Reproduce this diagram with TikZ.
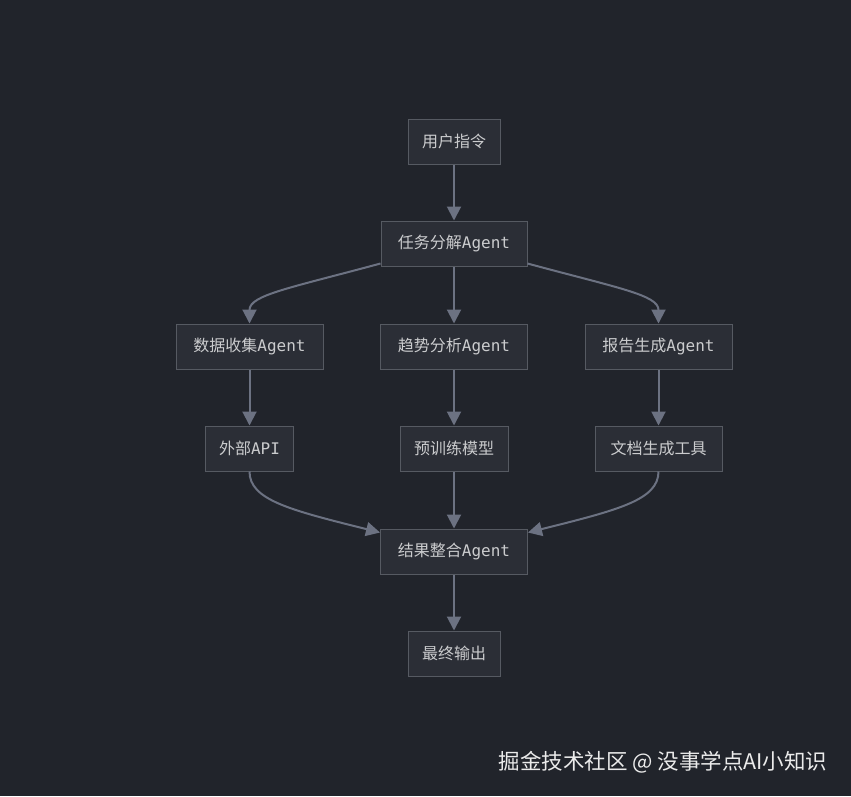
\documentclass[tikz,border=0pt]{standalone}
\usepackage{fontspec}
\setmainfont{Noto Sans CJK SC}
\setmonofont{DejaVu Sans Mono}
\usetikzlibrary{arrows.meta,positioning}
\definecolor{bg}{HTML}{21242B}
\definecolor{boxfill}{HTML}{2B2E36}
\definecolor{boxline}{HTML}{565A62}
\definecolor{txt}{HTML}{CBCCCE}
\definecolor{edge}{HTML}{6C7282}
\newcommand{\mo}[1]{{\ttfamily #1}}
\begin{document}
\begin{tikzpicture}[x=1pt,y=-1pt,
  box/.style={draw=boxline,line width=1pt,fill=boxfill,text=txt,minimum height=45pt,inner sep=0pt,font=\fontsize{16}{16}\selectfont},
  conn/.style={draw=edge,line width=2pt,-{Triangle[length=14pt,width=14pt]}}]
\fill[bg] (0,0) rectangle (851,796);
\useasboundingbox (0,0) rectangle (851,796);
\node[box,minimum width=92pt] (u) at (454,141.5) {用户指令};
\node[box,minimum width=146pt] (t) at (454,243.5) {任务分解\mo{Agent}};
\node[box,minimum width=147pt] (d) at (249.5,346.5) {数据收集\mo{Agent}};
\node[box,minimum width=147pt] (s) at (454,346.5) {趋势分析\mo{Agent}};
\node[box,minimum width=147pt] (g) at (658.5,346.5) {报告生成\mo{Agent}};
\node[box,minimum width=88pt] (api) at (249.5,448.5) {外部\mo{API}};
\node[box,minimum width=108pt] (m) at (454,448.5) {预训练模型};
\node[box,minimum width=127pt] (doc) at (658.5,448.5) {文档生成工具};
\node[box,minimum width=147pt] (r) at (454,551.5) {结果整合\mo{Agent}};
\node[box,minimum width=92pt] (o) at (454,653.5) {最终输出};
\draw[conn] (u.south) -- (t.north);
\draw[conn] (t.south) -- (s.north);
\draw[conn] ([yshift=3pt]t.south west) .. controls (290,288) and (249.5,295) .. (d.north);
\draw[conn] ([yshift=3pt]t.south east) .. controls (618,288) and (658.5,295) .. (g.north);
\draw[conn] (d.south) -- (api.north);
\draw[conn] (s.south) -- (m.north);
\draw[conn] (g.south) -- (doc.north);
\draw[conn] (api.south) .. controls (249.5,500) and (290,510) .. ([yshift=-4pt]r.north west);
\draw[conn] (m.south) -- (r.north);
\draw[conn] (doc.south) .. controls (658.5,500) and (618,510) .. ([yshift=-4pt]r.north east);
\draw[conn] (r.south) -- (o.north);
\node[text=white!92!black,font=\fontsize{21.5}{21.5}\selectfont,inner sep=0pt] (wm) at (663,762) {掘金技术社区 @ 没事学点AI小知识};
\end{tikzpicture}
\end{document}
